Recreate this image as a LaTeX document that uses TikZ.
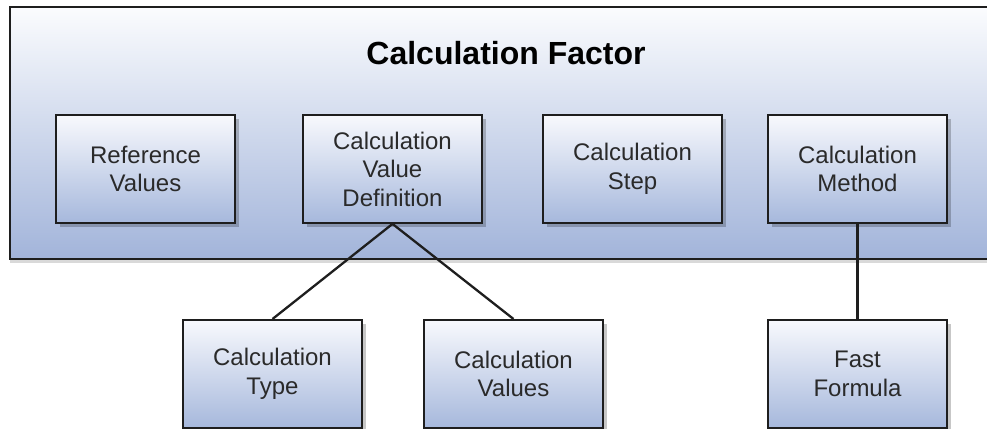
\documentclass[tikz,border=0pt]{standalone}
\usepackage{fontspec}
\setmainfont{Liberation Sans}
\usetikzlibrary{shadows}
\definecolor{boxtop}{HTML}{F8F9FD}
\definecolor{boxbot}{HTML}{A6B8DC}
\definecolor{outtop}{HTML}{FBFCFE}
\definecolor{outbot}{HTML}{A2B4DA}
\definecolor{txt}{HTML}{2A2A2A}
\definecolor{edge}{HTML}{1E1E1E}
\tikzset{
  entity/.style={draw=edge, line width=1.8pt, top color=boxtop, bottom color=boxbot,
    minimum width=179pt, minimum height=108pt, inner sep=0pt, text=txt, align=center,
    font=\fontsize{24}{28.5}\selectfont,
    drop shadow={shadow xshift=4pt, shadow yshift=-4pt, fill=black, opacity=0.22}},
  frame/.style={draw=edge, line width=1.8pt, top color=outtop, bottom color=outbot,
    minimum width=1000pt, minimum height=252pt, inner sep=0pt,
    drop shadow={shadow xshift=0pt, shadow yshift=-4pt, fill=black, opacity=0.15}},
  titletext/.style={text=black, font=\bfseries\fontsize{32}{38}\selectfont},
  conn/.style={draw=edge, line width=2.3pt}
}
\begin{document}
\begin{tikzpicture}[x=1pt, y=-1pt]
  \useasboundingbox (0,0) rectangle (987,428);
  \clip (0,0) rectangle (987,428);
  \node[frame] (factor) at (510,133) {};
  \node[titletext] (title) at (506,53) {Calculation Factor};
  \node[entity] (refval) at (145.5,169) {Reference\\Values};
  \node[entity] (cvd) at (392.5,169) {Calculation\\Value\\Definition};
  \node[entity] (cstep) at (632.5,169) {Calculation\\Step};
  \node[entity] (cmeth) at (857.5,169) {Calculation\\Method};
  \draw[conn] (cvd.south) -- (272.5,319) coordinate (ctypetop);
  \draw[conn] (cvd.south) -- (513.5,319) coordinate (cvaltop);
  \draw[conn] (cmeth.south) -- (857.5,319) coordinate (fftop);
  \node[entity, anchor=north] (ctype) at (ctypetop) {Calculation\\Type};
  \node[entity, anchor=north] (cval) at (cvaltop) {Calculation\\Values};
  \node[entity, anchor=north] (ff) at (fftop) {Fast\\Formula};
\end{tikzpicture}
\end{document}
